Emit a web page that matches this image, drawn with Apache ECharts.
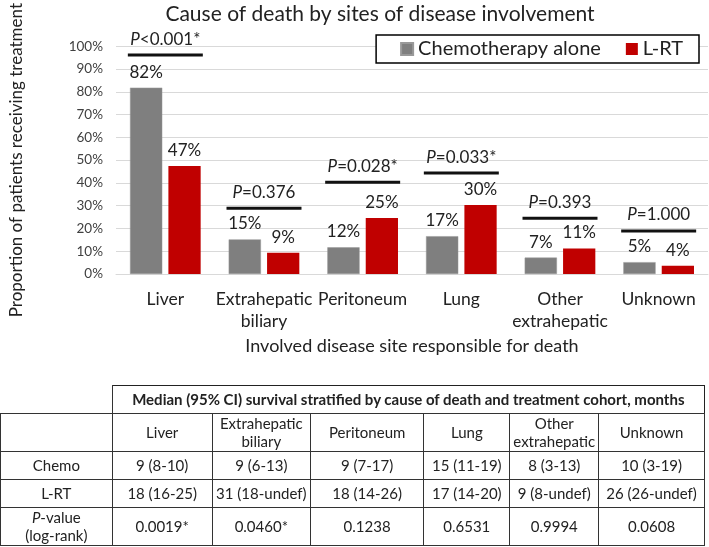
<!DOCTYPE html>
<html>
<head>
<meta charset="utf-8">
<script src="https://cdn.jsdelivr.net/npm/echarts@6/dist/echarts.min.js"></script>
<style>
  html, body { margin: 0; padding: 0; background: #fff; }
  #wrap { position: relative; width: 709px; height: 547px; overflow: hidden; }
  #chart { position: absolute; left: 0; top: 0; width: 709px; height: 547px; }
  #tbl { position: absolute; left: 0; top: 385px; border-collapse: collapse; table-layout: fixed;
         font-family: Lato, "Open Sans", sans-serif; font-size: 15px; color: #222; }
  #tbl td { border: 1px solid #333; text-align: center; vertical-align: middle; padding: 0; line-height: 18px; overflow: hidden; }
  #tbl td.blank { border-top: none; border-left: none; }
  #tbl td.head { font-weight: bold; border-top: 1.5px solid #222; border-right: 1.5px solid #222; }
</style>
</head>
<body>
<div id="wrap">
  <div id="chart"></div>
  <table id="tbl"></table>
</div>
<script>
// ---- chart data ----
const categories = ['Liver', 'Extrahepatic\nbiliary', 'Peritoneum', 'Lung', 'Other\nextrahepatic', 'Unknown'];
const chemoValues = [81.8, 15.2, 11.7, 16.6, 7.2, 5.2];
const lrtValues = [47.4, 9.3, 24.6, 30.3, 11.2, 3.6];
const pLineLevels = [96.1, 28.9, 40.3, 44.3, 24.5, 18.9];
const pTexts = ['<0.001*', '=0.376', '=0.028*', '=0.033*', '=0.393', '=1.000'];
const seriesNames = ['Chemotherapy alone', 'L-RT'];

// ---- table data ----
const tableTitle = 'Median (95% CI) survival stratified by cause of death and treatment cohort, months';
const tableSites = ['Liver', 'Extrahepatic<br>biliary', 'Peritoneum', 'Lung', 'Other<br>extrahepatic', 'Unknown'];
const chemoMedians = ['9 (8-10)', '9 (6-13)', '9 (7-17)', '15 (11-19)', '8 (3-13)', '10 (3-19)'];
const lrtMedians = ['18 (16-25)', '31 (18-undef)', '18 (14-26)', '17 (14-20)', '9 (8-undef)', '26 (26-undef)'];
const logRankP = ['0.0019*', '0.0460*', '0.1238', '0.6531', '0.9994', '0.0608'];

const FONT = 'Lato';
const chart = echarts.init(document.getElementById('chart'));

const labelCfg = {
  show: true, position: 'top', distance: 7,
  fontFamily: FONT, fontSize: 17, color: '#222',
  formatter: p => Math.round(p.value) + '%'
};

chart.setOption({
  animation: false,
  textStyle: { fontFamily: FONT },
  title: {
    text: 'Cause of death by sites of disease involvement',
    left: 375, top: -1, textAlign: 'center',
    textStyle: { fontFamily: FONT, fontSize: 21, fontWeight: 'normal', color: '#222' }
  },
  legend: {
    data: seriesNames,
    right: 10, top: 35,
    orient: 'horizontal',
    padding: [4, 16, 4, 24],
    itemWidth: 12, itemHeight: 12, itemGap: 25,
    icon: 'rect',
    backgroundColor: '#fff', borderColor: '#000', borderWidth: 1.5,
    textStyle: { fontFamily: FONT, fontSize: 20, color: '#222' }
  },
  grid: { left: 115, right: 1, top: 40.5, bottom: 273, containLabel: false },
  xAxis: {
    type: 'category', data: categories,
    axisLine: { lineStyle: { color: '#d9d9d9', width: 1 } },
    axisTick: { show: false },
    axisLabel: { fontFamily: FONT, fontSize: 17.5, lineHeight: 22, color: '#222', margin: 14, interval: 0 },
    name: 'Involved disease site responsible for death',
    nameLocation: 'middle', nameGap: 63,
    nameTextStyle: { fontFamily: FONT, fontSize: 18, color: '#222' }
  },
  yAxis: {
    type: 'value', min: 0, max: 100, interval: 10,
    axisLine: { show: false }, axisTick: { show: false },
    splitLine: { lineStyle: { color: '#d9d9d9', width: 1 } },
    axisLabel: { fontFamily: FONT, fontSize: 13.5, color: '#404040', margin: 13, formatter: '{value}%' },
    name: 'Proportion of patients receiving treatment',
    nameLocation: 'middle', nameGap: 91,
    nameTextStyle: { fontFamily: FONT, fontSize: 17, color: '#222' }
  },
  series: [
    {
      name: seriesNames[0], type: 'bar', data: chemoValues,
      barWidth: '32.7%', barGap: '19%',
      itemStyle: { color: '#7f7f7f', borderColor: '#999', borderWidth: 0.5 },
      label: labelCfg
    },
    {
      name: seriesNames[1], type: 'bar', data: lrtValues,
      barWidth: '32.7%', barGap: '19%',
      itemStyle: { color: '#c00000' },
      label: labelCfg
    },
    {
      name: 'P', type: 'custom', z: 5, clip: false,
      data: pLineLevels.map((v, i) => [i, v]),
      renderItem: function (params, api) {
        const c = api.coord([api.value(0), api.value(1)]);
        const w = api.size([1, 0])[0] * 0.76;
        return {
          type: 'group',
          children: [
            { type: 'line', shape: { x1: c[0] - w / 2, y1: c[1], x2: c[0] + w / 2, y2: c[1] },
              style: { stroke: '#111', lineWidth: 3 } },
            { type: 'text',
              style: {
                x: c[0], y: c[1] - 16, align: 'center', verticalAlign: 'middle',
                text: '{i|P}{n|' + pTexts[params.dataIndex] + '}',
                rich: {
                  i: { fontFamily: FONT, fontSize: 17, fontStyle: 'italic', fill: '#222' },
                  n: { fontFamily: FONT, fontSize: 17, fill: '#222' }
                }
              } }
          ]
        };
      }
    }
  ]
});

// ---- build table ----
const colW = [111.7, 100, 98.3, 113.3, 86, 89, 105.7];
const rowH = [27.7, 38.3, 28, 27.7, 38.3];
const tbl = document.getElementById('tbl');
let html = '<colgroup>' + colW.map(w => '<col style="width:' + w + 'px">').join('') + '</colgroup>';
html += '<tr style="height:' + rowH[0] + 'px"><td class="blank"></td><td class="head" colspan="6">' + tableTitle + '</td></tr>';
html += '<tr style="height:' + rowH[1] + 'px"><td></td>' + tableSites.map(s => '<td>' + s + '</td>').join('') + '</tr>';
html += '<tr style="height:' + rowH[2] + 'px"><td>Chemo</td>' + chemoMedians.map(s => '<td>' + s + '</td>').join('') + '</tr>';
html += '<tr style="height:' + rowH[3] + 'px"><td>L-RT</td>' + lrtMedians.map(s => '<td>' + s + '</td>').join('') + '</tr>';
html += '<tr style="height:' + rowH[4] + 'px"><td><i>P</i>-value<br>(log-rank)</td>' + logRankP.map(s => '<td>' + s + '</td>').join('') + '</tr>';
tbl.innerHTML = html;
tbl.style.width = colW.reduce((a, b) => a + b, 0) + 'px';
</script>
</body>
</html>
